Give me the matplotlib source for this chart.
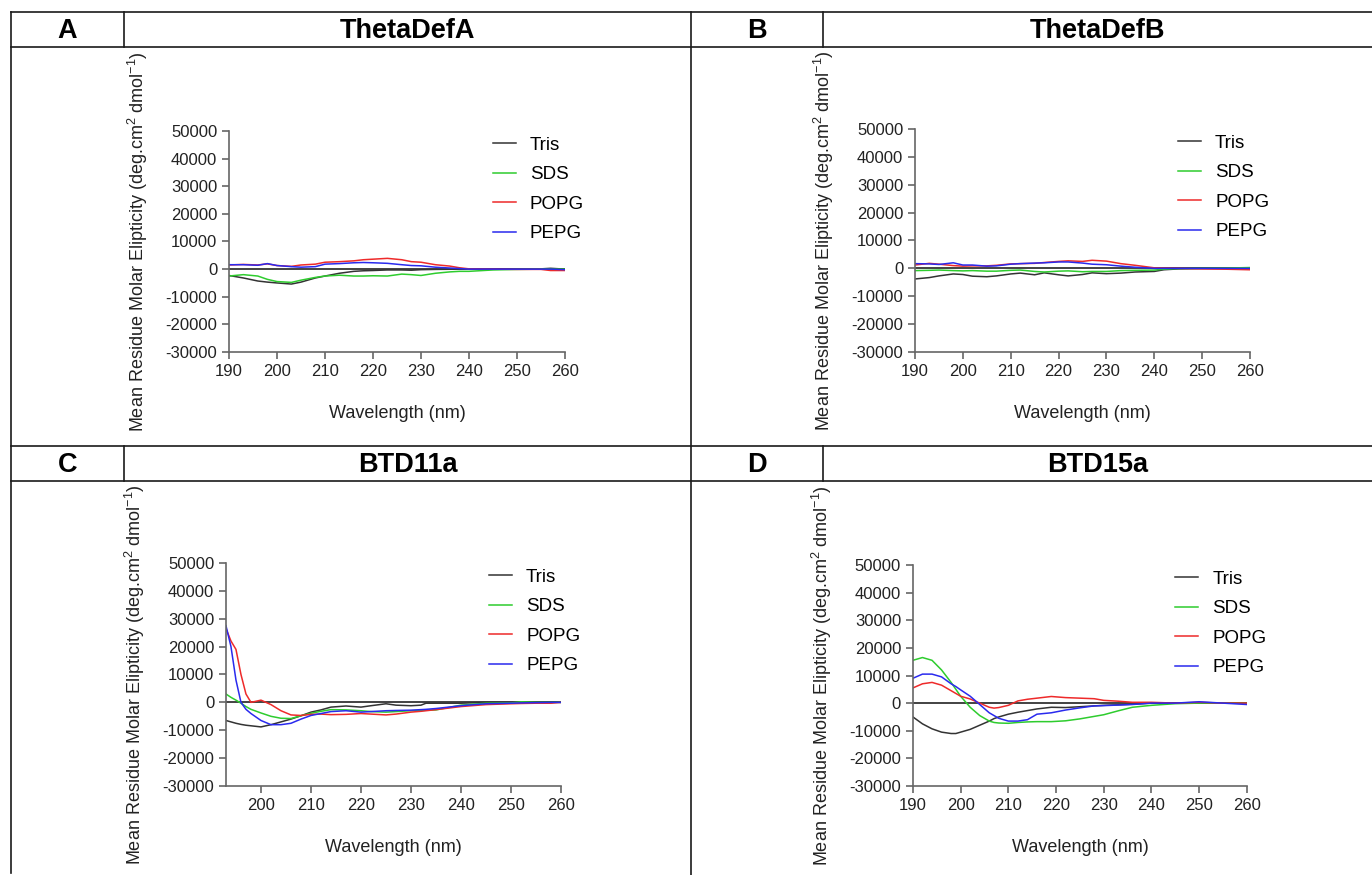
import matplotlib
matplotlib.use('Agg')
import matplotlib.pyplot as plt

plt.rcParams['font.family'] = ['Liberation Sans', 'DejaVu Sans']
plt.rcParams['mathtext.fontset'] = 'custom'
plt.rcParams['mathtext.rm'] = 'Liberation Sans'
plt.rcParams['axes.unicode_minus'] = False

# panel A - ThetaDefA
wl_a = [190, 193, 196, 198, 200, 203, 205, 208, 210, 213, 216, 218, 220, 223,
        226, 228, 230, 233, 236, 238, 240, 245, 250, 255, 257, 260]
tris_a = [-2300, -3200, -4300, -4700, -5000, -5400, -4700, -3200, -2500, -1500, -800, -600, -500, -300,
          -300, -400, -200, -100, -50, 0, 0, 100, 100, 100, 300, 0]
sds_a = [-2500, -2000, -2500, -3700, -4500, -4800, -4000, -3000, -2500, -2200, -2500, -2500, -2400, -2500,
         -1800, -2000, -2300, -1500, -1000, -800, -800, -300, -100, 0, 0, 0]
popg_a = [1500, 1700, 1500, 1900, 1300, 1000, 1500, 1800, 2500, 2700, 3000, 3400, 3600, 3900,
          3400, 2700, 2500, 1600, 1100, 500, 100, 0, -100, -100, -500, -500]
pepg_a = [1600, 1600, 1400, 2000, 1300, 900, 700, 900, 1800, 2000, 2300, 2400, 2300, 2100,
          1600, 1300, 1200, 700, 400, 200, 0, 0, 0, 0, 0, -200]

# panel B - ThetaDefB
wl_b = [190, 193, 195, 198, 200, 202, 205, 207, 210, 212, 215, 217, 220, 222, 225,
        227, 230, 233, 236, 240, 242, 245, 250, 255, 260]
tris_b = [-3800, -3300, -2700, -2000, -2200, -2800, -3000, -2700, -2000, -1700, -2300, -1600, -2300, -2700, -2200,
          -1600, -1900, -1700, -1300, -1100, -500, -200, 0, 0, 0]
sds_b = [-800, -700, -600, -800, -900, -800, -1000, -1000, -700, -600, -1100, -1300, -1000, -900, -1200,
         -1100, -1100, -800, -700, -600, -300, -100, 0, 100, 300]
popg_b = [1200, 1800, 1500, 1000, 800, 900, 900, 1100, 1600, 1700, 1800, 2100, 2500, 2700, 2500,
          2900, 2600, 1700, 1100, 200, 100, 0, -200, -300, -500]
pepg_b = [1700, 1600, 1400, 2000, 1200, 1200, 800, 900, 1500, 1700, 1900, 2000, 2300, 2300, 1900,
          1500, 1300, 800, 400, 0, 0, 0, 0, 0, 0]

# panel C - BTD11a
wl_c = [193, 194, 195, 196, 197, 198, 200, 202, 204, 206, 208, 210, 212, 214, 217,
        220, 222, 225, 227, 230, 232, 233, 235, 240, 245, 250, 252, 255, 258, 260]
tris_c = [-6500, -7000, -7500, -7900, -8200, -8400, -8800, -8000, -7000, -6000, -4800, -3500, -2700, -1700, -1300,
          -1700, -1200, -500, -1000, -1200, -1000, -300, -300, -300, 0, 0, 0, 0, 200, 0]
sds_c = [3000, 1800, 800, -300, -1500, -2500, -3800, -5000, -5700, -5800, -4800, -3900, -3200, -2600, -2700,
         -3000, -3300, -3500, -3300, -3000, -2900, -2800, -2700, -1000, -300, -200, 200, 0, 0, 0]
popg_c = [26500, 22000, 19000, 10000, 3000, 0, 800, -800, -3000, -4500, -4700, -4300, -4200, -4400, -4300,
          -4000, -4200, -4500, -4200, -3500, -3200, -3000, -2600, -1500, -800, -500, -400, -300, -300, 0]
pepg_c = [27500, 20000, 8000, 0, -2500, -4000, -6500, -8000, -8000, -7500, -6000, -4700, -4000, -3300, -3000,
          -3500, -3300, -3000, -2900, -2800, -2600, -2500, -2200, -1200, -500, -300, -200, -100, 0, 0]

# panel D - BTD15a
wl_d = [190, 192, 194, 196, 198, 199, 200, 202, 204, 206, 207, 208, 210, 212, 214,
        216, 219, 222, 225, 228, 230, 233, 236, 240, 245, 250, 255, 260]
tris_d = [-5000, -7500, -9300, -10500, -11000, -11000, -10500, -9500, -8000, -6500, -5600, -5000, -4000, -3300, -2700,
          -2100, -1500, -1600, -1300, -1000, -800, -600, -400, 0, 0, 0, 0, 0]
sds_d = [15500, 16500, 15500, 12000, 7500, 5000, 2500, -1500, -4500, -6500, -7000, -7200, -7300, -7000, -6800,
         -6700, -6700, -6400, -5700, -4800, -4200, -2800, -1500, -800, -200, 0, 0, 0]
popg_d = [5500, 7000, 7500, 6500, 4500, 3500, 2500, 1500, 0, -1500, -1800, -1600, -800, 800, 1400,
          1800, 2400, 2000, 1800, 1600, 1000, 700, 300, 300, 0, 300, 0, 0]
pepg_d = [9000, 10500, 10500, 9500, 7000, 6000, 4800, 2500, -500, -3500, -4500, -5500, -6500, -6500, -6000,
          -4000, -3500, -2500, -1700, -1000, -900, -700, -500, 0, 0, 500, 0, -500]

labels = ['Tris', 'SDS', 'POPG', 'PEPG']
colors = ['#333333', '#2ecc2e', '#ee2a2a', '#2a2aee']
yticks = [-30000, -20000, -10000, 0, 10000, 20000, 30000, 40000, 50000]
xticks = [190, 200, 210, 220, 230, 240, 250, 260]

panels = [
    ([0.1669, 0.5977, 0.2449, 0.2526], wl_a, [tris_a, sds_a, popg_a, pepg_a], 190),
    ([0.6669, 0.5977, 0.2442, 0.2549], wl_b, [tris_b, sds_b, popg_b, pepg_b], 190),
    ([0.1647, 0.1017, 0.2442, 0.2549], wl_c, [tris_c, sds_c, popg_c, pepg_c], 193),
    ([0.6654, 0.1017, 0.2434, 0.2526], wl_d, [tris_d, sds_d, popg_d, pepg_d], 190),
]

fig = plt.figure(figsize=(13.72, 8.75), dpi=100)

# table grid and headers
bg = fig.add_axes([0, 0, 1, 1])
bg.set_xlim(0, 1372)
bg.set_ylim(875, 0)
bg.axis('off')
lc = '#1a1a1a'
for yy in [12, 47, 446, 481]:
    bg.plot([11, 1372], [yy, yy], color=lc, lw=1.2)
bg.plot([11, 11], [12, 873], color=lc, lw=1.2)
bg.plot([691, 691], [12, 875], color=lc, lw=1.2)
for xx in [124, 823]:
    bg.plot([xx, xx], [12, 47], color=lc, lw=1.2)
    bg.plot([xx, xx], [446, 481], color=lc, lw=1.2)
headers = [('A', 'ThetaDefA', 31), ('B', 'ThetaDefB', 31), ('C', 'BTD11a', 465), ('D', 'BTD15a', 465)]
for i, (letter, title, yy) in enumerate(headers):
    x0 = 67.5 if i % 2 == 0 else 757
    x1 = 407.5 if i % 2 == 0 else 1097.5
    bg.text(x0, yy, letter, ha='center', va='center', fontsize=19.5, fontweight='bold')
    bg.text(x1, yy, title, ha='center', va='center', fontsize=19.5, fontweight='bold')

for rect, wl, series, xmin in panels:
    ax = fig.add_axes(rect)
    ax.axhline(0, color='#222222', lw=1.2, zorder=1)
    for s, lab, c in zip(series, labels, colors):
        ax.plot(wl, s, color=c, lw=1.1, label=lab)
    ax.set_xlim(xmin, 260)
    ax.set_ylim(-30000, 50000)
    ax.set_yticks(yticks)
    ax.set_xticks([t for t in xticks if t >= xmin])
    for sp in ['top', 'right']:
        ax.spines[sp].set_visible(False)
    for sp in ['left', 'bottom']:
        ax.spines[sp].set_color('#666666')
        ax.spines[sp].set_linewidth(1.2)
    ax.tick_params(direction='out', length=5, width=1.2, color='#666666',
                   labelsize=12, labelcolor='#222222')
    ax.set_xlabel('Wavelength (nm)', fontsize=13, labelpad=19, color='#222222')
    ax.set_ylabel('Mean Residue Molar Elipticity (deg.cm$^2$ dmol$^{-1}$)',
                  fontsize=13, labelpad=11, color='#222222')
    ax.legend(loc='upper left', bbox_to_anchor=(0.785, 0.975), frameon=False,
              borderaxespad=0, borderpad=0, fontsize=13.5, handlelength=1.23,
              handletextpad=0.75, labelspacing=0.66)

fig.savefig('out.png', dpi=100)
